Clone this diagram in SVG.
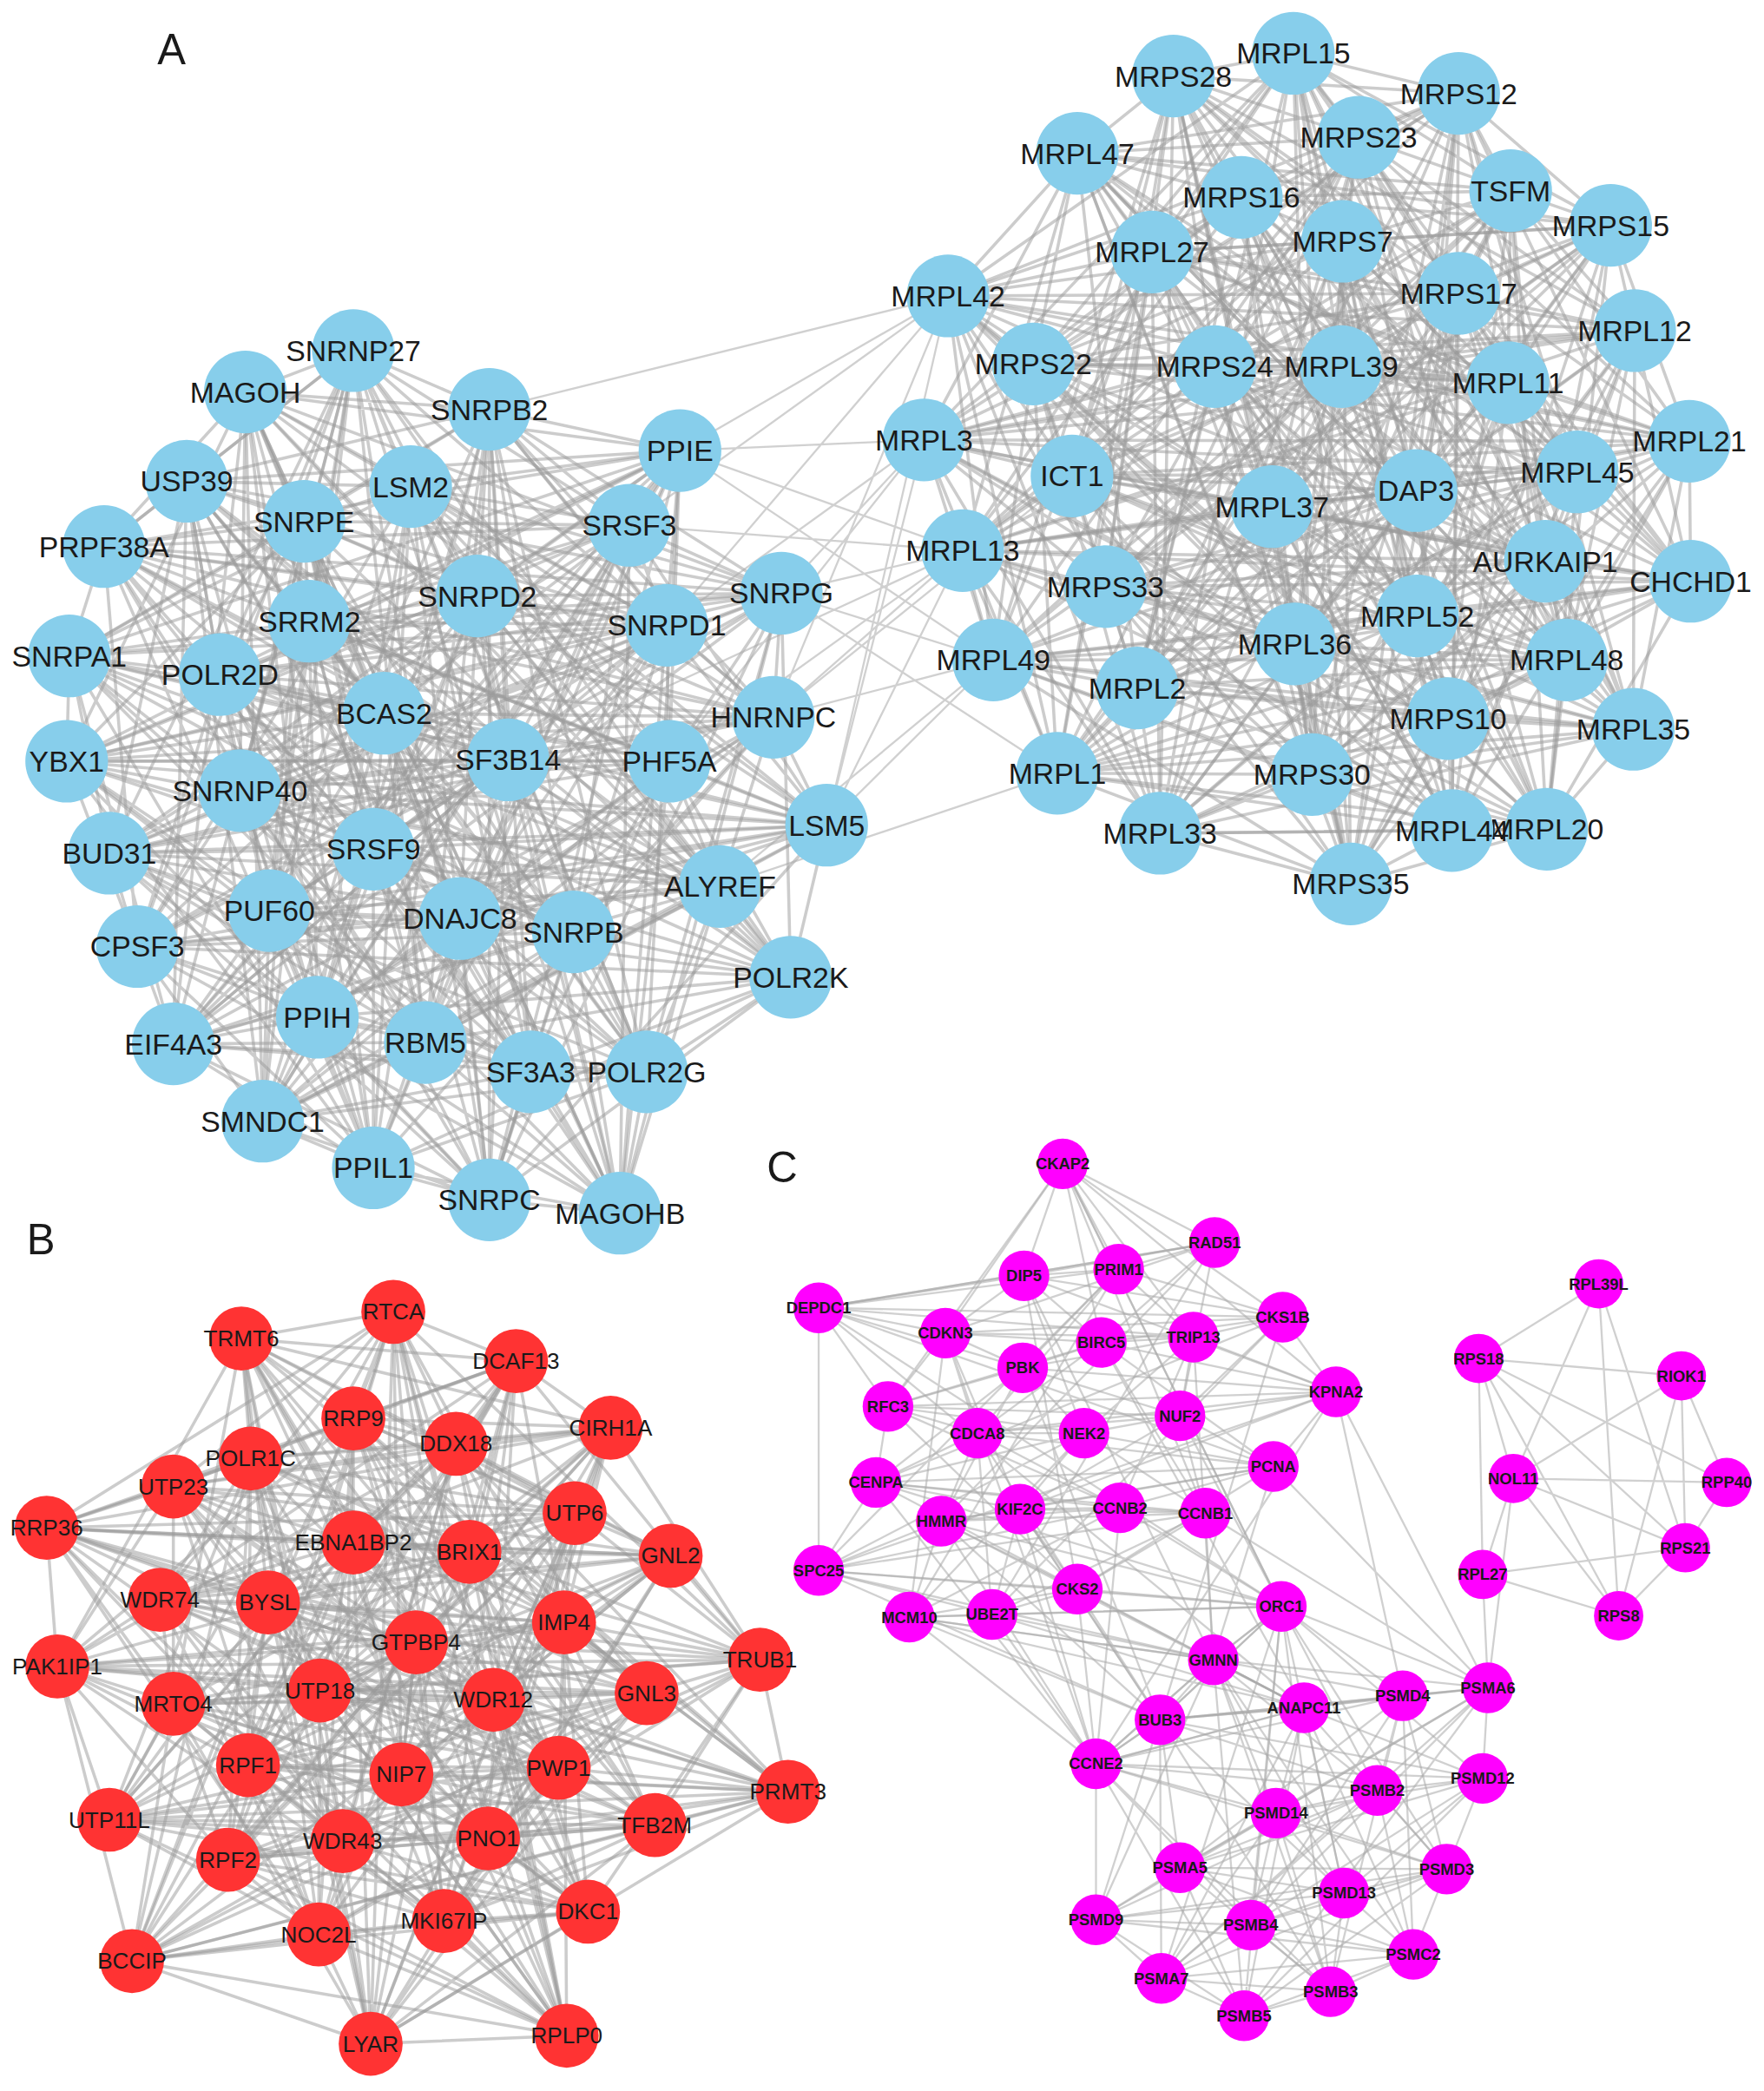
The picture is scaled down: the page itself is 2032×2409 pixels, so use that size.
<svg xmlns="http://www.w3.org/2000/svg" width="2032" height="2409" viewBox="0 0 2032 2409">
<style>
.e path{fill:none;stroke:#999;stroke-opacity:.5;stroke-width:2.3;stroke-linejoin:round}
.e path.t{stroke:#aaa;stroke-opacity:.55;stroke-width:1.5}
.a circle{fill:#87CEEB}
.b circle{fill:#FF3333}
.c circle{fill:#FF00FF}
text{font-family:"Liberation Sans",Arial,Helvetica,sans-serif;fill:#1a1a1a;text-anchor:middle;dominant-baseline:central}
.a text{font-size:22px}
.b text{font-size:17px}
.c text{font-size:12px;font-weight:bold}
.p{font-size:32px;text-anchor:start;dominant-baseline:auto}
</style>
<rect width="2032" height="2409" fill="#fff"/>
<g transform="scale(1.5359)">
<g id="connectors" class="e">
<path d="M265 263L184 294L367 307L510 338L140 361L308 365L228 391L472 394L78 410L586 445L358 447L232 466L500 469L52 492L165 506L288 535L580 538L50 571L381 570L502 571L180 593L620 619L280 637L82 640L540 665L202 683L345 689L430 699L103 710L593 733L238 763L319 782L130 783L398 804L485 804L197 841L280 876L367 900L465 910Z"/>
<path d="M265 263L367 307L140 361L228 391L78 410L358 447L500 469L165 506L580 538L381 570L180 593L280 637L540 665L345 689L103 710L238 763L130 783L485 804L280 876L465 910L184 294L510 338L308 365L472 394L586 445L232 466L52 492L288 535L50 571L502 571L620 619L82 640L202 683L430 699L593 733L319 782L398 804L197 841L367 900Z"/>
<path d="M265 263L140 361L78 410L500 469L580 538L180 593L540 665L103 710L130 783L280 876L184 294L308 365L586 445L52 492L50 571L620 619L202 683L593 733L398 804L367 900L367 307L228 391L358 447L165 506L381 570L280 637L345 689L238 763L485 804L465 910L510 338L472 394L232 466L288 535L502 571L82 640L430 699L319 782L197 841Z"/>
<path d="M265 263L308 365L358 447L288 535L180 593L202 683L238 763L197 841L184 294L228 391L232 466L580 538L620 619L345 689L319 782L280 876L367 307L472 394L500 469L50 571L280 637L430 699L130 783L367 900L510 338L78 410L52 492L381 570L82 640L103 710L398 804L465 910L140 361L586 445L165 506L502 571L540 665L593 733L485 804Z"/>
<path d="M265 263L78 410L580 538L540 665L130 783L184 294L586 445L50 571L202 683L398 804L367 307L358 447L381 570L345 689L485 804L510 338L232 466L502 571L430 699L197 841L140 361L500 469L180 593L103 710L280 876L308 365L52 492L620 619L593 733L367 900L228 391L165 506L280 637L238 763L465 910L472 394L288 535L82 640L319 782Z"/>
<path d="M265 263L232 466L280 637L398 804L308 365L580 538L430 699L465 910L358 447L620 619L130 783L140 361L288 535L345 689L367 900L586 445L180 593L319 782L510 338L165 506L202 683L280 876L78 410L502 571L238 763L367 307L52 492L540 665L197 841L472 394L381 570L593 733L184 294L500 469L82 640L485 804L228 391L50 571L103 710Z"/>
<path d="M265 263L580 538L130 783L586 445L202 683L367 307L381 570L485 804L232 466L430 699L140 361L180 593L280 876L52 492L593 733L228 391L280 637L465 910L288 535L319 782L78 410L540 665L184 294L50 571L398 804L358 447L345 689L510 338L502 571L197 841L500 469L103 710L308 365L620 619L367 900L165 506L238 763L472 394L82 640Z"/>
<path d="M265 263L502 571L465 910L381 570L367 900L50 571L280 876L580 538L197 841L288 535L485 804L165 506L398 804L52 492L130 783L500 469L319 782L232 466L238 763L358 447L593 733L586 445L103 710L78 410L430 699L472 394L345 689L228 391L202 683L308 365L540 665L140 361L82 640L510 338L280 637L367 307L620 619L184 294L180 593Z"/>
<path d="M265 263L472 394L165 506L620 619L103 710L197 841L510 338L358 447L50 571L540 665L319 782L465 910L228 391L52 492L180 593L430 699L485 804L367 307L586 445L580 538L82 640L238 763L367 900L308 365L500 469L502 571L345 689L398 804L184 294L78 410L288 535L280 637L593 733L280 876L140 361L232 466L381 570L202 683L130 783Z"/>
<path d="M265 263L358 447L180 593L238 763L184 294L232 466L620 619L319 782L367 307L500 469L280 637L130 783L510 338L52 492L82 640L398 804L140 361L165 506L540 665L485 804L308 365L288 535L202 683L197 841L228 391L580 538L345 689L280 876L472 394L50 571L430 699L367 900L78 410L381 570L103 710L465 910L586 445L502 571L593 733Z"/>
<path d="M265 263L165 506L103 710L510 338L50 571L319 782L228 391L180 593L485 804L586 445L82 640L367 900L500 469L345 689L184 294L288 535L593 733L140 361L381 570L130 783L472 394L620 619L197 841L358 447L540 665L465 910L52 492L430 699L367 307L580 538L238 763L308 365L502 571L398 804L78 410L280 637L280 876L232 466L202 683Z"/>
<path d="M970 40L880 57L1094 70L1019 103L808 115L1133 143L931 148L1208 169L1007 181L864 189L1094 220L711 222L1226 248L775 273L911 275L1006 275L1131 287L693 330L1267 331L1183 354L804 357L1062 368L954 380L722 413L1159 421L1268 436L829 440L1063 462L971 483L1175 495L745 495L853 516L1086 539L1225 547L793 580L984 581L1160 622L1089 623L870 625L1013 663Z"/>
<path d="M970 40L1019 103L931 148L864 189L1226 248L1006 275L1267 331L1062 368L1159 421L1063 462L745 495L1225 547L1160 622L1013 663L1094 70L1133 143L1007 181L711 222L911 275L693 330L804 357L722 413L829 440L1175 495L1086 539L984 581L870 625L880 57L808 115L1208 169L1094 220L775 273L1131 287L1183 354L954 380L1268 436L971 483L853 516L793 580L1089 623Z"/>
<path d="M970 40L1208 169L911 275L1062 368L971 483L984 581L1094 70L864 189L1131 287L722 413L745 495L1089 623L808 115L711 222L1267 331L1268 436L1086 539L1013 663L931 148L775 273L804 357L1063 462L793 580L880 57L1007 181L1006 275L954 380L1175 495L1160 622L1019 103L1094 220L693 330L1159 421L853 516L870 625L1133 143L1226 248L1183 354L829 440L1225 547Z"/>
<path d="M970 40L864 189L1267 331L1063 462L1160 622L1133 143L911 275L722 413L1086 539L880 57L1094 220L1183 354L971 483L1089 623L931 148L1006 275L1159 421L1225 547L1094 70L711 222L804 357L1175 495L870 625L1208 169L1131 287L1268 436L793 580L1019 103L1226 248L1062 368L745 495L1013 663L1007 181L693 330L829 440L984 581L808 115L775 273L954 380L853 516Z"/>
<path d="M970 40L711 222L954 380L1225 547L808 115L1006 275L829 440L1089 623L1007 181L1183 354L745 495L880 57L1226 248L722 413L793 580L1133 143L1131 287L1063 462L870 625L864 189L804 357L853 516L1094 70L775 273L1159 421L984 581L931 148L693 330L971 483L1013 663L1094 220L1062 368L1086 539L1019 103L911 275L1268 436L1160 622L1208 169L1267 331L1175 495Z"/>
<path d="M970 40L775 273L829 440L1013 663L1226 248L1268 436L870 625L711 222L1159 421L1089 623L1094 220L722 413L1160 622L864 189L954 380L984 581L1007 181L1062 368L793 580L1208 169L804 357L1225 547L931 148L1183 354L1086 539L1133 143L1267 331L853 516L808 115L693 330L745 495L1019 103L1131 287L1175 495L1094 70L1006 275L971 483L880 57L911 275L1063 462Z"/>
<path d="M970 40L693 330L793 580L711 222L971 483L1133 143L954 380L1013 663L1131 287L1225 547L1094 220L1063 462L808 115L1062 368L870 625L1006 275L1086 539L864 189L829 440L1019 103L804 357L1089 623L911 275L853 516L1007 181L1268 436L1094 70L1183 354L1160 622L775 273L745 495L1208 169L1159 421L880 57L1267 331L984 581L1226 248L1175 495L931 148L722 413Z"/>
<path d="M970 40L1183 354L870 625L693 330L1160 622L1006 275L793 580L775 273L1086 539L711 222L745 495L864 189L971 483L1208 169L829 440L1133 143L1159 421L1019 103L954 380L880 57L804 357L1013 663L1267 331L1089 623L1131 287L984 581L911 275L1225 547L1226 248L853 516L1094 220L1175 495L1007 181L1063 462L931 148L1268 436L808 115L722 413L1094 70L1062 368Z"/>
<path d="M970 40L1094 70L808 115L931 148L1007 181L1094 220L1226 248L911 275L1131 287L1267 331L804 357L954 380L1159 421L829 440L971 483L745 495L1086 539L793 580L1160 622L870 625ZM880 57L1019 103L1133 143L1208 169L864 189L711 222L775 273L1006 275L693 330L1183 354L1062 368L722 413L1268 436L1063 462L1175 495L853 516L1225 547L984 581L1089 623L1013 663Z"/>
<path d="M970 40L1133 143L1094 220L1006 275L804 357L1268 436L745 495L984 581ZM880 57L931 148L711 222L1131 287L1062 368L829 440L853 516L1160 622ZM1094 70L1208 169L1226 248L693 330L954 380L1063 462L1086 539L1089 623ZM1019 103L1007 181L775 273L1267 331L722 413L971 483L1225 547L870 625ZM808 115L864 189L911 275L1183 354L1159 421L1175 495L793 580L1013 663Z"/>
<path d="M970 40L1006 275L745 495L1133 143L804 357L984 581L1094 220L1268 436ZM880 57L1131 287L853 516L931 148L1062 368L1160 622L711 222L829 440ZM1094 70L693 330L1086 539L1208 169L954 380L1089 623L1226 248L1063 462ZM1019 103L1267 331L1225 547L1007 181L722 413L870 625L775 273L971 483ZM808 115L1183 354L793 580L864 189L1159 421L1013 663L911 275L1175 495Z"/>
<path d="M295 984L181 1004L387 1021L265 1064L458 1071L342 1083L188 1094L130 1115L431 1135L35 1146L265 1157L352 1164L503 1167L120 1200L201 1202L423 1217L312 1232L570 1245L43 1250L240 1268L485 1270L370 1275L130 1278L186 1324L419 1326L301 1331L591 1344L82 1365L491 1369L366 1379L257 1381L171 1395L441 1434L333 1441L239 1451L99 1471L425 1527L278 1533Z"/>
<path d="M295 984L265 1064L188 1094L35 1146L503 1167L423 1217L43 1250L370 1275L419 1326L82 1365L257 1381L333 1441L425 1527L181 1004L458 1071L130 1115L265 1157L120 1200L312 1232L240 1268L130 1278L301 1331L491 1369L171 1395L239 1451L278 1533L387 1021L342 1083L431 1135L352 1164L201 1202L570 1245L485 1270L186 1324L591 1344L366 1379L441 1434L99 1471Z"/>
<path d="M295 984L342 1083L265 1157L423 1217L485 1270L301 1331L257 1381L99 1471L387 1021L130 1115L503 1167L570 1245L130 1278L82 1365L441 1434L278 1533L458 1071L35 1146L201 1202L240 1268L419 1326L366 1379L239 1451L181 1004L188 1094L352 1164L312 1232L370 1275L591 1344L171 1395L425 1527L265 1064L431 1135L120 1200L43 1250L186 1324L491 1369L333 1441Z"/>
<path d="M295 984L130 1115L201 1202L370 1275L491 1369L99 1471L458 1071L352 1164L43 1250L301 1331L441 1434L181 1004L431 1135L423 1217L130 1278L366 1379L425 1527L342 1083L503 1167L240 1268L591 1344L333 1441L387 1021L35 1146L312 1232L186 1324L257 1381L278 1533L188 1094L120 1200L485 1270L82 1365L239 1451L265 1064L265 1157L570 1245L419 1326L171 1395Z"/>
<path d="M295 984L35 1146L43 1250L82 1365L425 1527L130 1115L312 1232L301 1331L239 1451L342 1083L201 1202L186 1324L441 1434L265 1064L503 1167L370 1275L257 1381L181 1004L265 1157L240 1268L491 1369L278 1533L431 1135L570 1245L591 1344L99 1471L188 1094L423 1217L419 1326L333 1441L458 1071L120 1200L130 1278L171 1395L387 1021L352 1164L485 1270L366 1379Z"/>
<path d="M295 984L120 1200L591 1344L181 1004L201 1202L82 1365L387 1021L423 1217L491 1369L265 1064L312 1232L366 1379L458 1071L570 1245L257 1381L342 1083L43 1250L171 1395L188 1094L240 1268L441 1434L130 1115L485 1270L333 1441L431 1135L370 1275L239 1451L35 1146L130 1278L99 1471L265 1157L186 1324L425 1527L352 1164L419 1326L278 1533L503 1167L301 1331Z"/>
<path d="M295 984L423 1217L257 1381L130 1115L130 1278L278 1533L201 1202L366 1379L188 1094L370 1275L425 1527L120 1200L491 1369L342 1083L485 1270L99 1471L503 1167L82 1365L458 1071L240 1268L239 1451L352 1164L591 1344L265 1064L43 1250L333 1441L265 1157L301 1331L387 1021L570 1245L441 1434L35 1146L419 1326L181 1004L312 1232L171 1395L431 1135L186 1324Z"/>
<path d="M295 984L570 1245L239 1451L120 1200L257 1381L35 1146L591 1344L342 1083L130 1278L181 1004L43 1250L99 1471L201 1202L171 1395L265 1157L82 1365L188 1094L186 1324L387 1021L240 1268L425 1527L423 1217L441 1434L352 1164L491 1369L130 1115L419 1326L265 1064L485 1270L278 1533L312 1232L333 1441L503 1167L366 1379L431 1135L301 1331L458 1071L370 1275Z"/>
<path d="M295 984L352 1164L130 1278L333 1441L188 1094L570 1245L491 1369L181 1004L503 1167L186 1324L239 1451L130 1115L43 1250L366 1379L387 1021L120 1200L419 1326L99 1471L431 1135L240 1268L257 1381L265 1064L201 1202L301 1331L425 1527L35 1146L485 1270L171 1395L458 1071L423 1217L591 1344L278 1533L265 1157L370 1275L441 1434L342 1083L312 1232L82 1365Z"/>
<path d="M295 984L387 1021L458 1071L188 1094L431 1135L265 1157L503 1167L201 1202L312 1232L43 1250L485 1270L130 1278L419 1326L591 1344L491 1369L257 1381L441 1434L239 1451L425 1527ZM181 1004L265 1064L342 1083L130 1115L35 1146L352 1164L120 1200L423 1217L570 1245L240 1268L370 1275L186 1324L301 1331L82 1365L366 1379L171 1395L333 1441L99 1471L278 1533Z"/>
<path class="t" d="M797 873L911 932L839 952L768 957L614 981L962 988L709 1000L895 1003L826 1007L767 1026L1002 1044L666 1055L885 1062L733 1075L813 1075L955 1100L657 1112L765 1132L840 1131L904 1135L706 1141L614 1178L808 1192L961 1205L744 1211L682 1213L910 1245L978 1281L870 1290L822 1323"/>
<path class="t" d="M797 873L839 952L614 981L709 1000L826 1007L1002 1044L885 1062L813 1075L657 1112L840 1131L706 1141L808 1192L744 1211L910 1245L870 1290M911 932L768 957L962 988L895 1003L767 1026L666 1055L733 1075L955 1100L765 1132L904 1135L614 1178L961 1205L682 1213L978 1281L822 1323"/>
<path class="t" d="M797 873L768 957L709 1000L767 1026L885 1062L955 1100L840 1131L614 1178L744 1211L978 1281M911 932L614 981L895 1003L1002 1044L733 1075L657 1112L904 1135L808 1192L682 1213L870 1290M839 952L962 988L826 1007L666 1055L813 1075L765 1132L706 1141L961 1205L910 1245L822 1323"/>
<path class="t" d="M797 873L962 988L1002 1044L955 1100L706 1141L682 1213M911 932L709 1000L666 1055L657 1112L614 1178L910 1245M839 952L895 1003L885 1062L765 1132L808 1192L978 1281M768 957L826 1007L733 1075L840 1131L961 1205L870 1290M614 981L767 1026L813 1075L904 1135L744 1211L822 1323"/>
<path class="t" d="M797 873L895 1003L813 1075L614 1178L870 1290L962 988L885 1062L904 1135L910 1245L768 957L1002 1044L765 1132L744 1211L911 932L826 1007L955 1100L808 1192L822 1323L709 1000L733 1075L706 1141L978 1281L614 981L666 1055L840 1131L682 1213L839 952L767 1026L657 1112L961 1205Z"/>
<path class="t" d="M797 873L666 1055L808 1192L768 957L813 1075L682 1213L709 1000L765 1132L870 1290L767 1026L706 1141L911 932L885 1062L961 1205L614 981L955 1100L910 1245L895 1003L840 1131L822 1323L1002 1044L614 1178L839 952L733 1075L744 1211L962 988L657 1112L978 1281L826 1007L904 1135Z"/>
<path class="t" d="M961 1205L910 1245L1116 1266L1052 1272L978 1281L870 1290L822 1323L1112 1334L1033 1343L957 1360L885 1401L1085 1402L1008 1420L822 1440L938 1444L1060 1466L871 1484L998 1494L933 1512Z"/>
<path class="t" d="M961 1205L1116 1266L978 1281L822 1323L1033 1343L885 1401L1008 1420L938 1444L871 1484L933 1512L910 1245L1052 1272L870 1290L1112 1334L957 1360L1085 1402L822 1440L1060 1466L998 1494Z"/>
<path class="t" d="M961 1205L1052 1272L822 1323L957 1360L1008 1420L1060 1466L933 1512L1116 1266L870 1290L1033 1343L1085 1402L938 1444L998 1494L910 1245L978 1281L1112 1334L885 1401L822 1440L871 1484Z"/>
<path class="t" d="M961 1205L870 1290L885 1401L1060 1466L910 1245L822 1323L1085 1402L871 1484L1116 1266L1112 1334L1008 1420L998 1494L1052 1272L1033 1343L822 1440L933 1512L978 1281L957 1360L938 1444Z"/>
<path class="t" d="M961 1205L1112 1334L938 1444L1116 1266L957 1360L871 1484L978 1281L1085 1402L933 1512L822 1323L822 1440L910 1245L1033 1343L1060 1466L1052 1272L885 1401L998 1494L870 1290L1008 1420Z"/>
<path class="t" d="M961 1205L1033 1343L871 1484L870 1290L822 1440L1116 1266L885 1401L933 1512L1112 1334L1060 1466L978 1281L1008 1420L910 1245L957 1360L998 1494L822 1323L938 1444L1052 1272L1085 1402Z"/>
<path class="t" d="M1002 1044L1116 1266M1002 1044L1052 1272M955 1100L1116 1266M904 1135L1116 1266M822 1323L706 1141M822 1323L682 1213M822 1323L657 1112M822 1323L765 1132M870 1290L706 1141M870 1290L765 1132M870 1290L733 1075M910 1245L682 1213M614 981L614 1178M614 981L911 932M797 873L1002 1044M797 873L961 1205M797 873L826 1007M797 873L709 1000"/>
<path class="t" d="M1199 963L1109 1019M1199 963L1135 1109M1199 963L1214 1212M1199 963L1264 1161M1109 1019L1261 1032M1109 1019L1112 1181M1109 1019L1135 1109M1109 1019L1214 1212M1109 1019L1264 1161M1109 1019L1295 1112M1261 1032L1135 1109M1261 1032L1264 1161M1261 1032L1295 1112M1261 1032L1214 1212M1135 1109L1295 1112M1135 1109L1264 1161M1135 1109L1214 1212M1135 1109L1112 1181M1295 1112L1264 1161M1264 1161L1112 1181M1264 1161L1214 1212M1112 1181L1214 1212M1112 1181L1116 1266M1135 1109L1116 1266"/>
<path class="t" d="M510 338L693 330M510 338L722 413M510 338L745 495M510 338L711 222M472 394L711 222M472 394L722 413M586 445L693 330M586 445L722 413M586 445L745 495M586 445L793 580M500 469L711 222M500 469L693 330M580 538L711 222M580 538L722 413M580 538L745 495M580 538L804 357M620 619L711 222M620 619L693 330M620 619L722 413M620 619L745 495M502 571L693 330M502 571L722 413M540 665L745 495M540 665L793 580M367 307L711 222M381 570L722 413"/>
</g>
<g id="nodes-A-left" class="a">
<g id="SNRNP27"><circle cx="265" cy="263" r="31"/><text x="265" y="263">SNRNP27</text></g>
<g id="MAGOH"><circle cx="184" cy="294" r="31"/><text x="184" y="294">MAGOH</text></g>
<g id="SNRPB2"><circle cx="367" cy="307" r="31"/><text x="367" y="307">SNRPB2</text></g>
<g id="PPIE"><circle cx="510" cy="338" r="31"/><text x="510" y="338">PPIE</text></g>
<g id="USP39"><circle cx="140" cy="361" r="31"/><text x="140" y="361">USP39</text></g>
<g id="LSM2"><circle cx="308" cy="365" r="31"/><text x="308" y="365">LSM2</text></g>
<g id="SNRPE"><circle cx="228" cy="391" r="31"/><text x="228" y="391">SNRPE</text></g>
<g id="SRSF3"><circle cx="472" cy="394" r="31"/><text x="472" y="394">SRSF3</text></g>
<g id="PRPF38A"><circle cx="78" cy="410" r="31"/><text x="78" y="410">PRPF38A</text></g>
<g id="SNRPG"><circle cx="586" cy="445" r="31"/><text x="586" y="445">SNRPG</text></g>
<g id="SNRPD2"><circle cx="358" cy="447" r="31"/><text x="358" y="447">SNRPD2</text></g>
<g id="SRRM2"><circle cx="232" cy="466" r="31"/><text x="232" y="466">SRRM2</text></g>
<g id="SNRPD1"><circle cx="500" cy="469" r="31"/><text x="500" y="469">SNRPD1</text></g>
<g id="SNRPA1"><circle cx="52" cy="492" r="31"/><text x="52" y="492">SNRPA1</text></g>
<g id="POLR2D"><circle cx="165" cy="506" r="31"/><text x="165" y="506">POLR2D</text></g>
<g id="BCAS2"><circle cx="288" cy="535" r="31"/><text x="288" y="535">BCAS2</text></g>
<g id="HNRNPC"><circle cx="580" cy="538" r="31"/><text x="580" y="538">HNRNPC</text></g>
<g id="YBX1"><circle cx="50" cy="571" r="31"/><text x="50" y="571">YBX1</text></g>
<g id="SF3B14"><circle cx="381" cy="570" r="31"/><text x="381" y="570">SF3B14</text></g>
<g id="PHF5A"><circle cx="502" cy="571" r="31"/><text x="502" y="571">PHF5A</text></g>
<g id="SNRNP40"><circle cx="180" cy="593" r="31"/><text x="180" y="593">SNRNP40</text></g>
<g id="LSM5"><circle cx="620" cy="619" r="31"/><text x="620" y="619">LSM5</text></g>
<g id="SRSF9"><circle cx="280" cy="637" r="31"/><text x="280" y="637">SRSF9</text></g>
<g id="BUD31"><circle cx="82" cy="640" r="31"/><text x="82" y="640">BUD31</text></g>
<g id="ALYREF"><circle cx="540" cy="665" r="31"/><text x="540" y="665">ALYREF</text></g>
<g id="PUF60"><circle cx="202" cy="683" r="31"/><text x="202" y="683">PUF60</text></g>
<g id="DNAJC8"><circle cx="345" cy="689" r="31"/><text x="345" y="689">DNAJC8</text></g>
<g id="SNRPB"><circle cx="430" cy="699" r="31"/><text x="430" y="699">SNRPB</text></g>
<g id="CPSF3"><circle cx="103" cy="710" r="31"/><text x="103" y="710">CPSF3</text></g>
<g id="POLR2K"><circle cx="593" cy="733" r="31"/><text x="593" y="733">POLR2K</text></g>
<g id="PPIH"><circle cx="238" cy="763" r="31"/><text x="238" y="763">PPIH</text></g>
<g id="RBM5"><circle cx="319" cy="782" r="31"/><text x="319" y="782">RBM5</text></g>
<g id="EIF4A3"><circle cx="130" cy="783" r="31"/><text x="130" y="783">EIF4A3</text></g>
<g id="SF3A3"><circle cx="398" cy="804" r="31"/><text x="398" y="804">SF3A3</text></g>
<g id="POLR2G"><circle cx="485" cy="804" r="31"/><text x="485" y="804">POLR2G</text></g>
<g id="SMNDC1"><circle cx="197" cy="841" r="31"/><text x="197" y="841">SMNDC1</text></g>
<g id="PPIL1"><circle cx="280" cy="876" r="31"/><text x="280" y="876">PPIL1</text></g>
<g id="SNRPC"><circle cx="367" cy="900" r="31"/><text x="367" y="900">SNRPC</text></g>
<g id="MAGOHB"><circle cx="465" cy="910" r="31"/><text x="465" y="910">MAGOHB</text></g>
</g>
<g id="nodes-A-right" class="a">
<g id="MRPL15"><circle cx="970" cy="40" r="31"/><text x="970" y="40">MRPL15</text></g>
<g id="MRPS28"><circle cx="880" cy="57" r="31"/><text x="880" y="57">MRPS28</text></g>
<g id="MRPS12"><circle cx="1094" cy="70" r="31"/><text x="1094" y="70">MRPS12</text></g>
<g id="MRPS23"><circle cx="1019" cy="103" r="31"/><text x="1019" y="103">MRPS23</text></g>
<g id="MRPL47"><circle cx="808" cy="115" r="31"/><text x="808" y="115">MRPL47</text></g>
<g id="TSFM"><circle cx="1133" cy="143" r="31"/><text x="1133" y="143">TSFM</text></g>
<g id="MRPS16"><circle cx="931" cy="148" r="31"/><text x="931" y="148">MRPS16</text></g>
<g id="MRPS15"><circle cx="1208" cy="169" r="31"/><text x="1208" y="169">MRPS15</text></g>
<g id="MRPS7"><circle cx="1007" cy="181" r="31"/><text x="1007" y="181">MRPS7</text></g>
<g id="MRPL27"><circle cx="864" cy="189" r="31"/><text x="864" y="189">MRPL27</text></g>
<g id="MRPS17"><circle cx="1094" cy="220" r="31"/><text x="1094" y="220">MRPS17</text></g>
<g id="MRPL42"><circle cx="711" cy="222" r="31"/><text x="711" y="222">MRPL42</text></g>
<g id="MRPL12"><circle cx="1226" cy="248" r="31"/><text x="1226" y="248">MRPL12</text></g>
<g id="MRPS22"><circle cx="775" cy="273" r="31"/><text x="775" y="273">MRPS22</text></g>
<g id="MRPS24"><circle cx="911" cy="275" r="31"/><text x="911" y="275">MRPS24</text></g>
<g id="MRPL39"><circle cx="1006" cy="275" r="31"/><text x="1006" y="275">MRPL39</text></g>
<g id="MRPL11"><circle cx="1131" cy="287" r="31"/><text x="1131" y="287">MRPL11</text></g>
<g id="MRPL3"><circle cx="693" cy="330" r="31"/><text x="693" y="330">MRPL3</text></g>
<g id="MRPL21"><circle cx="1267" cy="331" r="31"/><text x="1267" y="331">MRPL21</text></g>
<g id="MRPL45"><circle cx="1183" cy="354" r="31"/><text x="1183" y="354">MRPL45</text></g>
<g id="ICT1"><circle cx="804" cy="357" r="31"/><text x="804" y="357">ICT1</text></g>
<g id="DAP3"><circle cx="1062" cy="368" r="31"/><text x="1062" y="368">DAP3</text></g>
<g id="MRPL37"><circle cx="954" cy="380" r="31"/><text x="954" y="380">MRPL37</text></g>
<g id="MRPL13"><circle cx="722" cy="413" r="31"/><text x="722" y="413">MRPL13</text></g>
<g id="AURKAIP1"><circle cx="1159" cy="421" r="31"/><text x="1159" y="421">AURKAIP1</text></g>
<g id="CHCHD1"><circle cx="1268" cy="436" r="31"/><text x="1268" y="436">CHCHD1</text></g>
<g id="MRPS33"><circle cx="829" cy="440" r="31"/><text x="829" y="440">MRPS33</text></g>
<g id="MRPL52"><circle cx="1063" cy="462" r="31"/><text x="1063" y="462">MRPL52</text></g>
<g id="MRPL36"><circle cx="971" cy="483" r="31"/><text x="971" y="483">MRPL36</text></g>
<g id="MRPL48"><circle cx="1175" cy="495" r="31"/><text x="1175" y="495">MRPL48</text></g>
<g id="MRPL49"><circle cx="745" cy="495" r="31"/><text x="745" y="495">MRPL49</text></g>
<g id="MRPL2"><circle cx="853" cy="516" r="31"/><text x="853" y="516">MRPL2</text></g>
<g id="MRPS10"><circle cx="1086" cy="539" r="31"/><text x="1086" y="539">MRPS10</text></g>
<g id="MRPL35"><circle cx="1225" cy="547" r="31"/><text x="1225" y="547">MRPL35</text></g>
<g id="MRPL1"><circle cx="793" cy="580" r="31"/><text x="793" y="580">MRPL1</text></g>
<g id="MRPS30"><circle cx="984" cy="581" r="31"/><text x="984" y="581">MRPS30</text></g>
<g id="MRPL20"><circle cx="1160" cy="622" r="31"/><text x="1160" y="622">MRPL20</text></g>
<g id="MRPL44"><circle cx="1089" cy="623" r="31"/><text x="1089" y="623">MRPL44</text></g>
<g id="MRPL33"><circle cx="870" cy="625" r="31"/><text x="870" y="625">MRPL33</text></g>
<g id="MRPS35"><circle cx="1013" cy="663" r="31"/><text x="1013" y="663">MRPS35</text></g>
</g>
<g id="nodes-B" class="b">
<g id="RTCA"><circle cx="295" cy="984" r="24"/><text x="295" y="984">RTCA</text></g>
<g id="TRMT6"><circle cx="181" cy="1004" r="24"/><text x="181" y="1004">TRMT6</text></g>
<g id="DCAF13"><circle cx="387" cy="1021" r="24"/><text x="387" y="1021">DCAF13</text></g>
<g id="RRP9"><circle cx="265" cy="1064" r="24"/><text x="265" y="1064">RRP9</text></g>
<g id="CIRH1A"><circle cx="458" cy="1071" r="24"/><text x="458" y="1071">CIRH1A</text></g>
<g id="DDX18"><circle cx="342" cy="1083" r="24"/><text x="342" y="1083">DDX18</text></g>
<g id="POLR1C"><circle cx="188" cy="1094" r="24"/><text x="188" y="1094">POLR1C</text></g>
<g id="UTP23"><circle cx="130" cy="1115" r="24"/><text x="130" y="1115">UTP23</text></g>
<g id="UTP6"><circle cx="431" cy="1135" r="24"/><text x="431" y="1135">UTP6</text></g>
<g id="RRP36"><circle cx="35" cy="1146" r="24"/><text x="35" y="1146">RRP36</text></g>
<g id="EBNA1BP2"><circle cx="265" cy="1157" r="24"/><text x="265" y="1157">EBNA1BP2</text></g>
<g id="BRIX1"><circle cx="352" cy="1164" r="24"/><text x="352" y="1164">BRIX1</text></g>
<g id="GNL2"><circle cx="503" cy="1167" r="24"/><text x="503" y="1167">GNL2</text></g>
<g id="WDR74"><circle cx="120" cy="1200" r="24"/><text x="120" y="1200">WDR74</text></g>
<g id="BYSL"><circle cx="201" cy="1202" r="24"/><text x="201" y="1202">BYSL</text></g>
<g id="IMP4"><circle cx="423" cy="1217" r="24"/><text x="423" y="1217">IMP4</text></g>
<g id="GTPBP4"><circle cx="312" cy="1232" r="24"/><text x="312" y="1232">GTPBP4</text></g>
<g id="TRUB1"><circle cx="570" cy="1245" r="24"/><text x="570" y="1245">TRUB1</text></g>
<g id="PAK1IP1"><circle cx="43" cy="1250" r="24"/><text x="43" y="1250">PAK1IP1</text></g>
<g id="UTP18"><circle cx="240" cy="1268" r="24"/><text x="240" y="1268">UTP18</text></g>
<g id="GNL3"><circle cx="485" cy="1270" r="24"/><text x="485" y="1270">GNL3</text></g>
<g id="WDR12"><circle cx="370" cy="1275" r="24"/><text x="370" y="1275">WDR12</text></g>
<g id="MRTO4"><circle cx="130" cy="1278" r="24"/><text x="130" y="1278">MRTO4</text></g>
<g id="RPF1"><circle cx="186" cy="1324" r="24"/><text x="186" y="1324">RPF1</text></g>
<g id="PWP1"><circle cx="419" cy="1326" r="24"/><text x="419" y="1326">PWP1</text></g>
<g id="NIP7"><circle cx="301" cy="1331" r="24"/><text x="301" y="1331">NIP7</text></g>
<g id="PRMT3"><circle cx="591" cy="1344" r="24"/><text x="591" y="1344">PRMT3</text></g>
<g id="UTP11L"><circle cx="82" cy="1365" r="24"/><text x="82" y="1365">UTP11L</text></g>
<g id="TFB2M"><circle cx="491" cy="1369" r="24"/><text x="491" y="1369">TFB2M</text></g>
<g id="PNO1"><circle cx="366" cy="1379" r="24"/><text x="366" y="1379">PNO1</text></g>
<g id="WDR43"><circle cx="257" cy="1381" r="24"/><text x="257" y="1381">WDR43</text></g>
<g id="RPF2"><circle cx="171" cy="1395" r="24"/><text x="171" y="1395">RPF2</text></g>
<g id="DKC1"><circle cx="441" cy="1434" r="24"/><text x="441" y="1434">DKC1</text></g>
<g id="MKI67IP"><circle cx="333" cy="1441" r="24"/><text x="333" y="1441">MKI67IP</text></g>
<g id="NOC2L"><circle cx="239" cy="1451" r="24"/><text x="239" y="1451">NOC2L</text></g>
<g id="BCCIP"><circle cx="99" cy="1471" r="24"/><text x="99" y="1471">BCCIP</text></g>
<g id="RPLP0"><circle cx="425" cy="1527" r="24"/><text x="425" y="1527">RPLP0</text></g>
<g id="LYAR"><circle cx="278" cy="1533" r="24"/><text x="278" y="1533">LYAR</text></g>
</g>
<g id="nodes-C" class="c">
<g id="CKAP2"><circle cx="797" cy="873" r="19"/><text x="797" y="873">CKAP2</text></g>
<g id="RAD51"><circle cx="911" cy="932" r="19"/><text x="911" y="932">RAD51</text></g>
<g id="PRIM1"><circle cx="839" cy="952" r="19"/><text x="839" y="952">PRIM1</text></g>
<g id="DIP5"><circle cx="768" cy="957" r="19"/><text x="768" y="957">DIP5</text></g>
<g id="DEPDC1"><circle cx="614" cy="981" r="19"/><text x="614" y="981">DEPDC1</text></g>
<g id="CKS1B"><circle cx="962" cy="988" r="19"/><text x="962" y="988">CKS1B</text></g>
<g id="CDKN3"><circle cx="709" cy="1000" r="19"/><text x="709" y="1000">CDKN3</text></g>
<g id="TRIP13"><circle cx="895" cy="1003" r="19"/><text x="895" y="1003">TRIP13</text></g>
<g id="BIRC5"><circle cx="826" cy="1007" r="19"/><text x="826" y="1007">BIRC5</text></g>
<g id="PBK"><circle cx="767" cy="1026" r="19"/><text x="767" y="1026">PBK</text></g>
<g id="KPNA2"><circle cx="1002" cy="1044" r="19"/><text x="1002" y="1044">KPNA2</text></g>
<g id="RFC3"><circle cx="666" cy="1055" r="19"/><text x="666" y="1055">RFC3</text></g>
<g id="NUF2"><circle cx="885" cy="1062" r="19"/><text x="885" y="1062">NUF2</text></g>
<g id="CDCA8"><circle cx="733" cy="1075" r="19"/><text x="733" y="1075">CDCA8</text></g>
<g id="NEK2"><circle cx="813" cy="1075" r="19"/><text x="813" y="1075">NEK2</text></g>
<g id="PCNA"><circle cx="955" cy="1100" r="19"/><text x="955" y="1100">PCNA</text></g>
<g id="CENPA"><circle cx="657" cy="1112" r="19"/><text x="657" y="1112">CENPA</text></g>
<g id="KIF2C"><circle cx="765" cy="1132" r="19"/><text x="765" y="1132">KIF2C</text></g>
<g id="CCNB2"><circle cx="840" cy="1131" r="19"/><text x="840" y="1131">CCNB2</text></g>
<g id="CCNB1"><circle cx="904" cy="1135" r="19"/><text x="904" y="1135">CCNB1</text></g>
<g id="HMMR"><circle cx="706" cy="1141" r="19"/><text x="706" y="1141">HMMR</text></g>
<g id="SPC25"><circle cx="614" cy="1178" r="19"/><text x="614" y="1178">SPC25</text></g>
<g id="CKS2"><circle cx="808" cy="1192" r="19"/><text x="808" y="1192">CKS2</text></g>
<g id="ORC1"><circle cx="961" cy="1205" r="19"/><text x="961" y="1205">ORC1</text></g>
<g id="UBE2T"><circle cx="744" cy="1211" r="19"/><text x="744" y="1211">UBE2T</text></g>
<g id="MCM10"><circle cx="682" cy="1213" r="19"/><text x="682" y="1213">MCM10</text></g>
<g id="GMNN"><circle cx="910" cy="1245" r="19"/><text x="910" y="1245">GMNN</text></g>
<g id="ANAPC11"><circle cx="978" cy="1281" r="19"/><text x="978" y="1281">ANAPC11</text></g>
<g id="PSMA6"><circle cx="1116" cy="1266" r="19"/><text x="1116" y="1266">PSMA6</text></g>
<g id="PSMD4"><circle cx="1052" cy="1272" r="19"/><text x="1052" y="1272">PSMD4</text></g>
<g id="BUB3"><circle cx="870" cy="1290" r="19"/><text x="870" y="1290">BUB3</text></g>
<g id="CCNE2"><circle cx="822" cy="1323" r="19"/><text x="822" y="1323">CCNE2</text></g>
<g id="PSMD12"><circle cx="1112" cy="1334" r="19"/><text x="1112" y="1334">PSMD12</text></g>
<g id="PSMB2"><circle cx="1033" cy="1343" r="19"/><text x="1033" y="1343">PSMB2</text></g>
<g id="PSMD14"><circle cx="957" cy="1360" r="19"/><text x="957" y="1360">PSMD14</text></g>
<g id="PSMA5"><circle cx="885" cy="1401" r="19"/><text x="885" y="1401">PSMA5</text></g>
<g id="PSMD3"><circle cx="1085" cy="1402" r="19"/><text x="1085" y="1402">PSMD3</text></g>
<g id="PSMD13"><circle cx="1008" cy="1420" r="19"/><text x="1008" y="1420">PSMD13</text></g>
<g id="PSMD9"><circle cx="822" cy="1440" r="19"/><text x="822" y="1440">PSMD9</text></g>
<g id="PSMB4"><circle cx="938" cy="1444" r="19"/><text x="938" y="1444">PSMB4</text></g>
<g id="PSMC2"><circle cx="1060" cy="1466" r="19"/><text x="1060" y="1466">PSMC2</text></g>
<g id="PSMA7"><circle cx="871" cy="1484" r="19"/><text x="871" y="1484">PSMA7</text></g>
<g id="PSMB3"><circle cx="998" cy="1494" r="19"/><text x="998" y="1494">PSMB3</text></g>
<g id="PSMB5"><circle cx="933" cy="1512" r="19"/><text x="933" y="1512">PSMB5</text></g>
<g id="RPL39L"><circle cx="1199" cy="963" r="18.5"/><text x="1199" y="963">RPL39L</text></g>
<g id="RPS18"><circle cx="1109" cy="1019" r="18.5"/><text x="1109" y="1019">RPS18</text></g>
<g id="RIOK1"><circle cx="1261" cy="1032" r="18.5"/><text x="1261" y="1032">RIOK1</text></g>
<g id="NOL11"><circle cx="1135" cy="1109" r="18.5"/><text x="1135" y="1109">NOL11</text></g>
<g id="RPP40"><circle cx="1295" cy="1112" r="18.5"/><text x="1295" y="1112">RPP40</text></g>
<g id="RPS21"><circle cx="1264" cy="1161" r="18.5"/><text x="1264" y="1161">RPS21</text></g>
<g id="RPL27"><circle cx="1112" cy="1181" r="18.5"/><text x="1112" y="1181">RPL27</text></g>
<g id="RPS8"><circle cx="1214" cy="1212" r="18.5"/><text x="1214" y="1212">RPS8</text></g>
</g>
<g id="panel-labels">
<text class="p" x="118" y="48">A</text>
<text class="p" x="20" y="941">B</text>
<text class="p" x="575" y="887">C</text>
</g>
</g>
</svg>
